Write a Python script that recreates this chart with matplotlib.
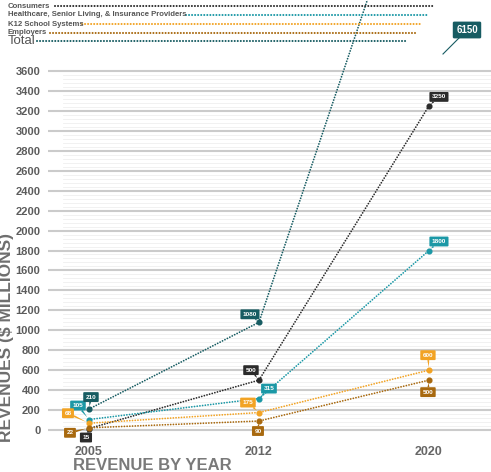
import matplotlib
matplotlib.use("Agg")
import matplotlib.pyplot as plt
from matplotlib.lines import Line2D

plt.rcParams["font.family"] = ["Liberation Sans", "DejaVu Sans"]

# revenue by segment, $ millions
years = ["2005", "2012", "2020"]
consumers = [15, 500, 3250]
healthcare = [105, 315, 1800]
k12 = [68, 175, 600]
employers = [22, 90, 500]
total = [210, 1080, 6150]

names = ["Consumers", "Healthcare, Senior Living, & Insurance Providers",
         "K12 School Systems", "Employers", "Total"]
series = [consumers, healthcare, k12, employers, total]
colors = ["#2b2b2b", "#1b98a6", "#f2a324", "#a8690f", "#175c62"]

# value-tag offsets (pixels from the point) per series, per year; None = placed by hand
tag_off = [
    [(-3, -9), (-8, 10), (10, 9)],
    [(-11, 14), (10, 10), (10, 9)],
    [(-21, 10), (-11, 10), (-1, 15)],
    [(-19, -5), (-1, -10), (-1, -12)],
    [(2, 12), (-9, 8), None],
]

W, H = 491, 472
fig = plt.figure(figsize=(W / 100, H / 100), dpi=100)
ax = fig.add_axes([48 / W, 1 - 445 / H, 1 - 48 / W, (445 - 60) / H])
ax.set_xlim(-0.241, 2.365)
ax.set_ylim(-150.4, 3710.3)

# striped background: light major lines every 200, faint ones between
for v in range(0, 3600, 40):
    if v % 200:
        ax.axhline(v, xmin=0.034, color="#efefef", lw=0.6, zorder=0)
for v in range(0, 3601, 200):
    ax.axhline(v, color="#cbcbcb", lw=1.5, zorder=1)

ax.set_yticks(range(0, 3601, 200))
ax.set_xticks(range(len(years)))
ax.set_xticklabels(years)
ax.tick_params(length=0)
ax.tick_params(axis="y", pad=5.5, labelsize=8, labelcolor="#5c5c5c")
ax.tick_params(axis="x", pad=0.5, labelsize=9, labelcolor="#666666")
for lab in ax.get_xticklabels() + ax.get_yticklabels():
    lab.set_fontweight("bold")
for s in ax.spines.values():
    s.set_visible(False)
ax.set_facecolor("none")

xs = list(range(len(years)))
for vals, col, offs in zip(series, colors, tag_off):
    ax.plot(xs, vals, color=col, lw=1.3, ls=(0, (0.01, 1.5)), dash_capstyle="round",
            marker="o", ms=3.4, mec=col, mfc=col, clip_on=False, zorder=4)
    for x, v, o in zip(xs, vals, offs):
        if o is None:
            continue
        ax.annotate(f"{v}", (x, v), xytext=o, textcoords="offset pixels",
                    ha="center", va="center", fontsize=4.6, fontweight="bold", color="white",
                    bbox=dict(boxstyle="round,pad=0.38,rounding_size=0.15", fc=col, ec="none"),
                    arrowprops=dict(arrowstyle="wedge,tail_width=0.3", fc=col, ec="none",
                                    shrinkA=0, shrinkB=2),
                    annotation_clip=False, zorder=6)

# 2020 total sits above the scale; its tag is pinned near the top edge
fig.text(467 / W, 1 - 30 / H, f"{total[2]}", ha="center", va="center", fontsize=7,
         fontweight="bold", color="white", zorder=7,
         bbox=dict(boxstyle="round,pad=0.35,rounding_size=0.15", fc=colors[4], ec="none"))
fig.add_artist(Line2D([459 / W, 443 / W], [1 - 38 / H, 1 - 54 / H], color=colors[4], lw=0.8))

# legend rows: name followed by a dotted rule in the series colour
leg_y = [6, 15, 24, 32.5, 41]
leg_x0 = [55, 186, 82, 50, 37]
leg_x1 = [435, 427, 420, 415, 408]
for i, (nm, col) in enumerate(zip(names, colors)):
    big = nm == "Total"
    fig.text(8 / W, 1 - leg_y[i] / H, nm, ha="left", va="center",
             fontsize=9.5 if big else 5.6, fontweight="normal" if big else "bold",
             color="#555555")
    fig.add_artist(Line2D([leg_x0[i] / W, leg_x1[i] / W], [1 - leg_y[i] / H] * 2,
                          color=col, lw=1.5, ls=(0, (0.01, 1.45)), dash_capstyle="round"))

fig.text(7 / W, 1 - 338 / H, "REVENUES ($ MILLIONS)", rotation=90, ha="center", va="center",
         fontsize=12.5, fontweight="bold", color="#6e6e6e")
fig.text(73 / W, 1 - 458 / H, "REVENUE BY YEAR", ha="left", va="top",
         fontsize=12, fontweight="bold", color="#7a7a7a")

fig.savefig("out.png", dpi=100, facecolor="white")
